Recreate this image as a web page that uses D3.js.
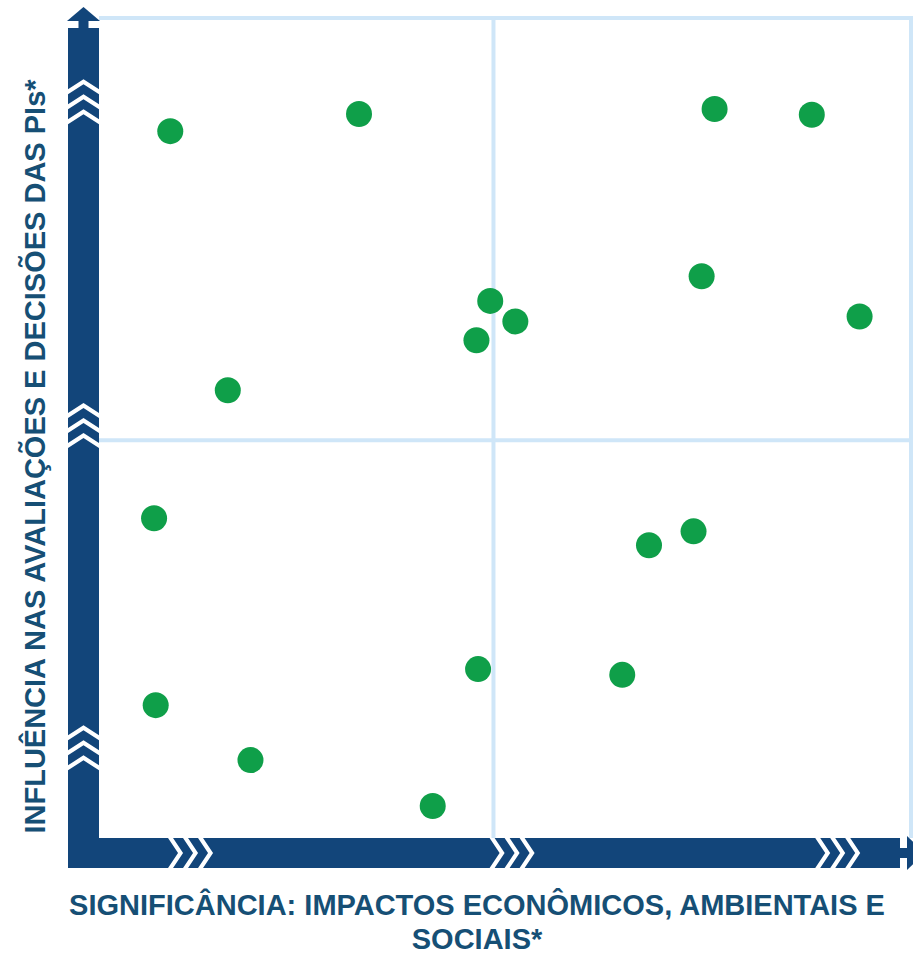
<!DOCTYPE html>
<html>
<head>
<meta charset="utf-8">
<script src="https://cdn.jsdelivr.net/npm/d3@7"></script>
<style>
  html, body { margin: 0; padding: 0; background: #ffffff; }
  svg { display: block; }
</style>
</head>
<body>
<div id="chart"></div>
<script>
// ---- data (both axes on a 0–100 scale) ----
const pointX = [8.8, 32.1, 76.0, 88.0, 74.4, 93.9, 48.3, 51.4, 46.6, 15.9, 6.8, 67.9, 73.4, 46.8, 64.6, 7.0, 18.7, 41.2];
const pointY = [86.2, 88.3, 88.9, 88.2, 68.5, 63.6, 65.5, 63.0, 60.7, 54.6, 39.0, 35.7, 37.4, 20.6, 19.9, 16.2, 9.5, 3.9];
const quadrantSplitX = [48.7];
const quadrantSplitY = [48.5];
const xChevronValues = [11.3, 51.0, 91.2];   // centres of the ">>>" marks along the x axis
const yChevronValues = [89.8, 50.3, 11.0];   // centres of the "^^^" marks along the y axis
const xTitleLines = ["SIGNIFICÂNCIA: IMPACTOS ECONÔMICOS, AMBIENTAIS E", "SOCIAIS*"];
const yTitle = "INFLUÊNCIA NAS AVALIAÇÕES E DECISÕES DAS PIs*";

// ---- layout ----
const W = 913, H = 954;
const plot = { left: 99, right: 909, top: 18, bottom: 838 };
const barW = 31;
const navy = "#12457a";
const lightBlue = "#cfe6f8";
const green = "#0f9f49";
const textColor = "#164f75";

const svg = d3.select("#chart").append("svg").attr("width", W).attr("height", H);

const x = d3.scaleLinear().domain([0, 100]).range([plot.left, plot.right]);
const y = d3.scaleLinear().domain([0, 100]).range([plot.bottom, plot.top]);

// light frame (top and right) and quadrant dividers
svg.append("line").attr("x1", plot.left).attr("x2", W).attr("y1", plot.top).attr("y2", plot.top)
  .attr("stroke", lightBlue).attr("stroke-width", 4);
svg.append("line").attr("x1", plot.right + 2).attr("x2", plot.right + 2).attr("y1", plot.top).attr("y2", plot.bottom)
  .attr("stroke", lightBlue).attr("stroke-width", 4);

svg.selectAll("line.vsplit").data(quadrantSplitX).join("line").attr("class", "vsplit")
  .attr("x1", d => x(d)).attr("x2", d => x(d)).attr("y1", plot.top).attr("y2", plot.bottom)
  .attr("stroke", lightBlue).attr("stroke-width", 4);
svg.selectAll("line.hsplit").data(quadrantSplitY).join("line").attr("class", "hsplit")
  .attr("x1", plot.left).attr("x2", plot.right).attr("y1", d => y(d)).attr("y2", d => y(d))
  .attr("stroke", lightBlue).attr("stroke-width", 4);

// ---- axes drawn as thick arrows ----
const vx0 = plot.left - barW, vx1 = plot.left;        // vertical bar
const hy0 = plot.bottom, hy1 = plot.bottom + barW - 1; // horizontal bar
const vMid = (vx0 + vx1) / 2, hMid = (hy0 + hy1) / 2;

// vertical bar + arrow head
svg.append("rect").attr("x", vx0).attr("y", 28).attr("width", barW).attr("height", hy1 - 28).attr("fill", navy);
svg.append("rect").attr("x", vMid - 5).attr("y", 19).attr("width", 10).attr("height", 10).attr("fill", navy);
svg.append("path").attr("d", `M${vx0 - 1},21 L${vMid},7 L${vx1 + 1},21 Z`).attr("fill", navy);

// horizontal bar + arrow head
svg.append("rect").attr("x", vx0).attr("y", hy0).attr("width", 900 - vx0).attr("height", barW - 1).attr("fill", navy);
svg.append("rect").attr("x", 899).attr("y", hMid - 5).attr("width", 9).attr("height", 10).attr("fill", navy);
svg.append("path").attr("d", `M907,${hy0 - 2} L925,${hMid} L907,${hy1 + 2} Z`).attr("fill", navy);

// chevrons on the x axis (pointing right)
const sw = 5, depth = 10, step = 15;
const span = 2 * step + sw + depth;
xChevronValues.forEach(v => {
  const start = x(v) - span / 2;
  for (let i = 0; i < 3; i++) {
    const a = start + i * step;
    svg.append("path")
      .attr("d", `M${a},${hy0} L${a + sw},${hy0} L${a + sw + depth},${hMid} L${a + sw},${hy1} L${a},${hy1} L${a + depth},${hMid} Z`)
      .attr("fill", "#ffffff");
  }
});
// chevrons on the y axis (pointing up)
yChevronValues.forEach(v => {
  const base = y(v) + span / 2;
  for (let i = 0; i < 3; i++) {
    const b = base - i * step;
    svg.append("path")
      .attr("d", `M${vx0},${b} L${vMid},${b - depth} L${vx1},${b} L${vx1},${b - sw} L${vMid},${b - depth - sw} L${vx0},${b - sw} Z`)
      .attr("fill", "#ffffff");
  }
});

// ---- points ----
const pts = pointX.map((d, i) => ({ x: d, y: pointY[i] }));
svg.selectAll("circle.pt").data(pts).join("circle").attr("class", "pt")
  .attr("cx", d => x(d.x)).attr("cy", d => y(d.y)).attr("r", 13).attr("fill", green);

// ---- titles ----
svg.selectAll("text.xt").data(xTitleLines).join("text").attr("class", "xt")
  .attr("x", 477).attr("y", (d, i) => 915 + i * 34)
  .attr("text-anchor", "middle")
  .attr("font-family", "Liberation Sans, Arial, sans-serif").attr("font-weight", "bold")
  .attr("font-size", 29).attr("fill", textColor)
  .text(d => d);

svg.append("text")
  .attr("transform", `translate(45, 456.5) rotate(-90)`)
  .attr("text-anchor", "middle")
  .attr("font-family", "Liberation Sans, Arial, sans-serif").attr("font-weight", "bold")
  .attr("font-size", 29).attr("fill", textColor)
  .text(yTitle);
</script>
</body>
</html>
